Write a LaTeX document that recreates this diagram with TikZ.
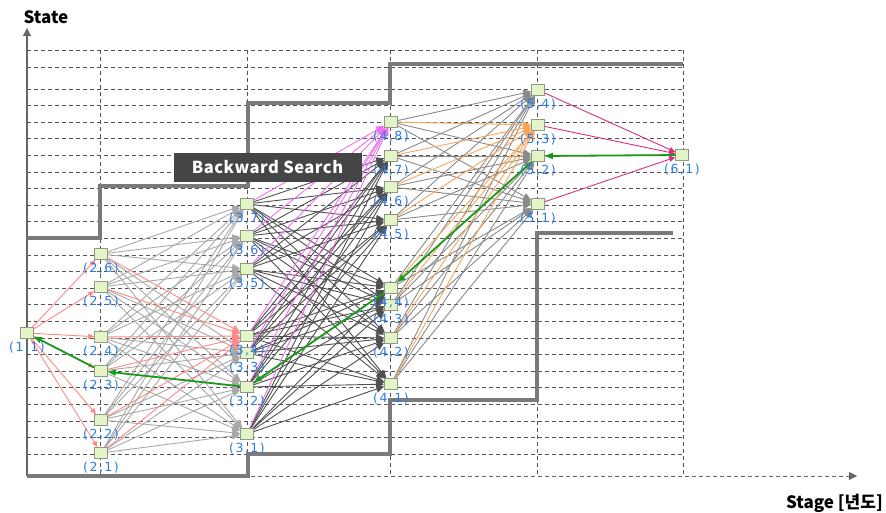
\documentclass[tikz,border=0pt]{standalone}
\usepackage{fontspec}
\setmainfont{DejaVu Sans}
\newfontfamily\krfont{Noto Sans CJK KR}
\newfontfamily\krwide{Noto Sans CJK KR}[LetterSpace=3]
\newfontfamily\lblfont{DejaVu Sans}[LetterSpace=12]
\usetikzlibrary{arrows.meta}

\definecolor{gridgray}{HTML}{555555}
\definecolor{boundgray}{HTML}{7A7A7A}
\definecolor{axisgray}{HTML}{666666}
\definecolor{nodefill}{HTML}{E3F4C6}
\definecolor{nodeborder}{HTML}{8E9A86}
\definecolor{lblblue}{HTML}{2A7BE4}
\definecolor{lightedge}{HTML}{A8A8A8}
\definecolor{darkedge}{HTML}{505050}
\definecolor{midedge}{HTML}{8A8A8A}
\definecolor{rededge}{HTML}{FF8888}
\definecolor{magedge}{HTML}{EE70EE}
\definecolor{orgedge}{HTML}{F7A55C}
\definecolor{crimedge}{HTML}{D8307A}
\definecolor{pathgreen}{HTML}{1A9A1A}
\definecolor{boxgray}{HTML}{454545}

\pgfdeclarelayer{gridlayer}
\pgfdeclarelayer{edgelayer}
\pgfsetlayers{gridlayer,edgelayer,main}

\tikzset{
  gridline/.style={draw=gridgray, dash pattern=on 4pt off 3pt, line width=0.7pt},
  bound/.style={draw=boundgray, line width=3.5pt, line join=miter},
  state/.style={rectangle, draw=nodeborder, fill=nodefill, minimum width=13pt,
    minimum height=11pt, inner sep=0pt, line width=0.6pt},
  lbl/.style={font=\lblfont\fontsize{12.5}{13}\selectfont, text=lblblue, inner sep=0pt},
  tipbig/.style={-{Triangle[length=8pt,width=7pt]}},
  tipsmall/.style={-{Triangle[length=6pt,width=5pt]}},
  elight/.style={draw=lightedge, line width=0.9pt, tipbig},
  edark/.style={draw=darkedge, line width=0.9pt, tipbig},
  emid/.style={draw=midedge, line width=0.9pt, tipbig},
  ered/.style={draw=rededge, line width=0.9pt, tipsmall},
  eredbig/.style={draw=rededge, line width=0.9pt, tipbig},
  emag/.style={draw=magedge, line width=0.9pt, tipbig},
  eorg/.style={draw=orgedge, line width=0.9pt, tipbig},
  ecrim/.style={draw=crimedge, line width=0.9pt, tipsmall},
  epath/.style={draw=pathgreen, line width=1.8pt, -{Triangle[length=8pt,width=6pt]}},
  axisline/.style={draw=axisgray, line width=1.2pt},
  title/.style={font=\krfont\bfseries\fontsize{17}{18}\selectfont, text=black, inner sep=0pt}
}

\begin{document}
\begin{tikzpicture}[x=1pt, y=-1pt]
\useasboundingbox (0,0) rectangle (886,512);

% state boxes: stage / index / x / y
\foreach \s/\k/\x/\y in {
  1/1/27/333,
  2/6/101/254, 2/5/101/287, 2/4/101/337, 2/3/101/371, 2/2/101/420, 2/1/101/453,
  3/7/247/204, 3/6/247/236, 3/5/247/269, 3/4/247/336, 3/3/247/353, 3/2/247/387, 3/1/247/434,
  4/8/391/122, 4/7/391/156, 4/6/391/187, 4/5/391/220, 4/4/391/288, 4/3/391/305, 4/2/391/338, 4/1/391/384,
  5/4/538/90, 5/3/538/125, 5/2/538/156, 5/1/538/204,
  6/1/682/155}
  \node[state] (n\s\k) at (\x,\y) {};

\begin{pgfonlayer}{gridlayer}
% grid: horizontal dashed lines
\foreach \yy in {50,67,89,105.6,122.2,138.8,155.4,172,188.6,205.2,221.8,238.4,255,
  271.6,288.2,304.8,321.4,338,354.6,371.2,387.8,404.4,421,437.6,454.2}
  \draw[gridline] (27,\yy) -- (683,\yy);
% grid: vertical dashed lines at each stage
\foreach \xx in {100,247,390,537,683}
  \draw[gridline] (\xx,50) -- (\xx,476);

% axes
\coordinate (origin) at (27,476);
\coordinate (ytop) at (27,28);
\coordinate (xend) at (857,476);
\draw[axisline, -{Triangle[length=8pt,width=8pt]}, dash pattern=on 4pt off 3pt, line width=0.8pt] (origin) -- (xend);
\draw[axisline, -{Triangle[length=8pt,width=8pt]}] (origin) -- (ytop);

% upper and lower bounds of the feasible states
\draw[bound] (27,238) -- (100,238) -- (100,186) -- (248,186) -- (248,103)
  -- (390,103) -- (390,64) -- (683,64);
\draw[bound] (27,476) -- (248,476) -- (248,454) -- (390,454) -- (390,400)
  -- (537,400) -- (537,233) -- (673,233);
\end{pgfonlayer}

\begin{pgfonlayer}{edgelayer}
% transitions stage 1 -> 2
\foreach \j in {1,...,6}
  \draw[ered] (n11) -- (n2\j);

% transitions stage 2 -> 3
\foreach \i in {1,...,6}
  \foreach \j in {1,2,3,5,6,7}
    \draw[elight] (n2\i) -- (n3\j);
\foreach \i in {1,...,6}
  \draw[eredbig] (n2\i) -- (n34);

% transitions stage 3 -> 4
\foreach \i in {1,...,7}
  \foreach \j in {1,...,7}
    \draw[edark] (n3\i) -- (n4\j);
\foreach \i in {1,...,7}
  \draw[emag] (n3\i) -- (n48);

% transitions stage 4 -> 5
\foreach \i in {1,...,8}
  \foreach \j in {1,2,4}
    \draw[emid] (n4\i) -- (n5\j);
\foreach \i in {1,...,8}
  \draw[eorg] (n4\i) -- (n53);

% transitions stage 5 -> 6
\foreach \i in {1,...,4}
  \draw[ecrim] (n5\i) -- (n61);
\end{pgfonlayer}

% backward search path
\draw[epath] (n61) -- (n52);
\draw[epath] (n52) -- (n44);
\draw[epath] (n44) -- (n32);
\draw[epath] (n32) -- (n23);
\draw[epath] (n23) -- (n11);

% state labels
\foreach \s/\k in {1/1, 2/6,2/5,2/4,2/3,2/2,2/1, 3/7,3/6,3/5,3/4,3/3,3/2,3/1,
  4/8,4/7,4/6,4/5,4/4,4/3,4/2,4/1, 5/4,5/3,5/2,5/1, 6/1}
  \node[lbl] (l\s\k) at ([yshift=-14.5pt]n\s\k) {(\s,\k)};

% caption box
\node[fill=boxgray, text=white, minimum width=188pt, minimum height=29pt, inner sep=0pt,
  font=\krwide\bfseries\fontsize{16.5}{18}\selectfont] (bsearch) at (267.5,167.5) {Backward Search};

% axis titles
\node[title] (ytitle) at (46,17) {State};
\node[title, anchor=east] (xtitle) at (883,503) {Stage [년도]};
\end{tikzpicture}
\end{document}
